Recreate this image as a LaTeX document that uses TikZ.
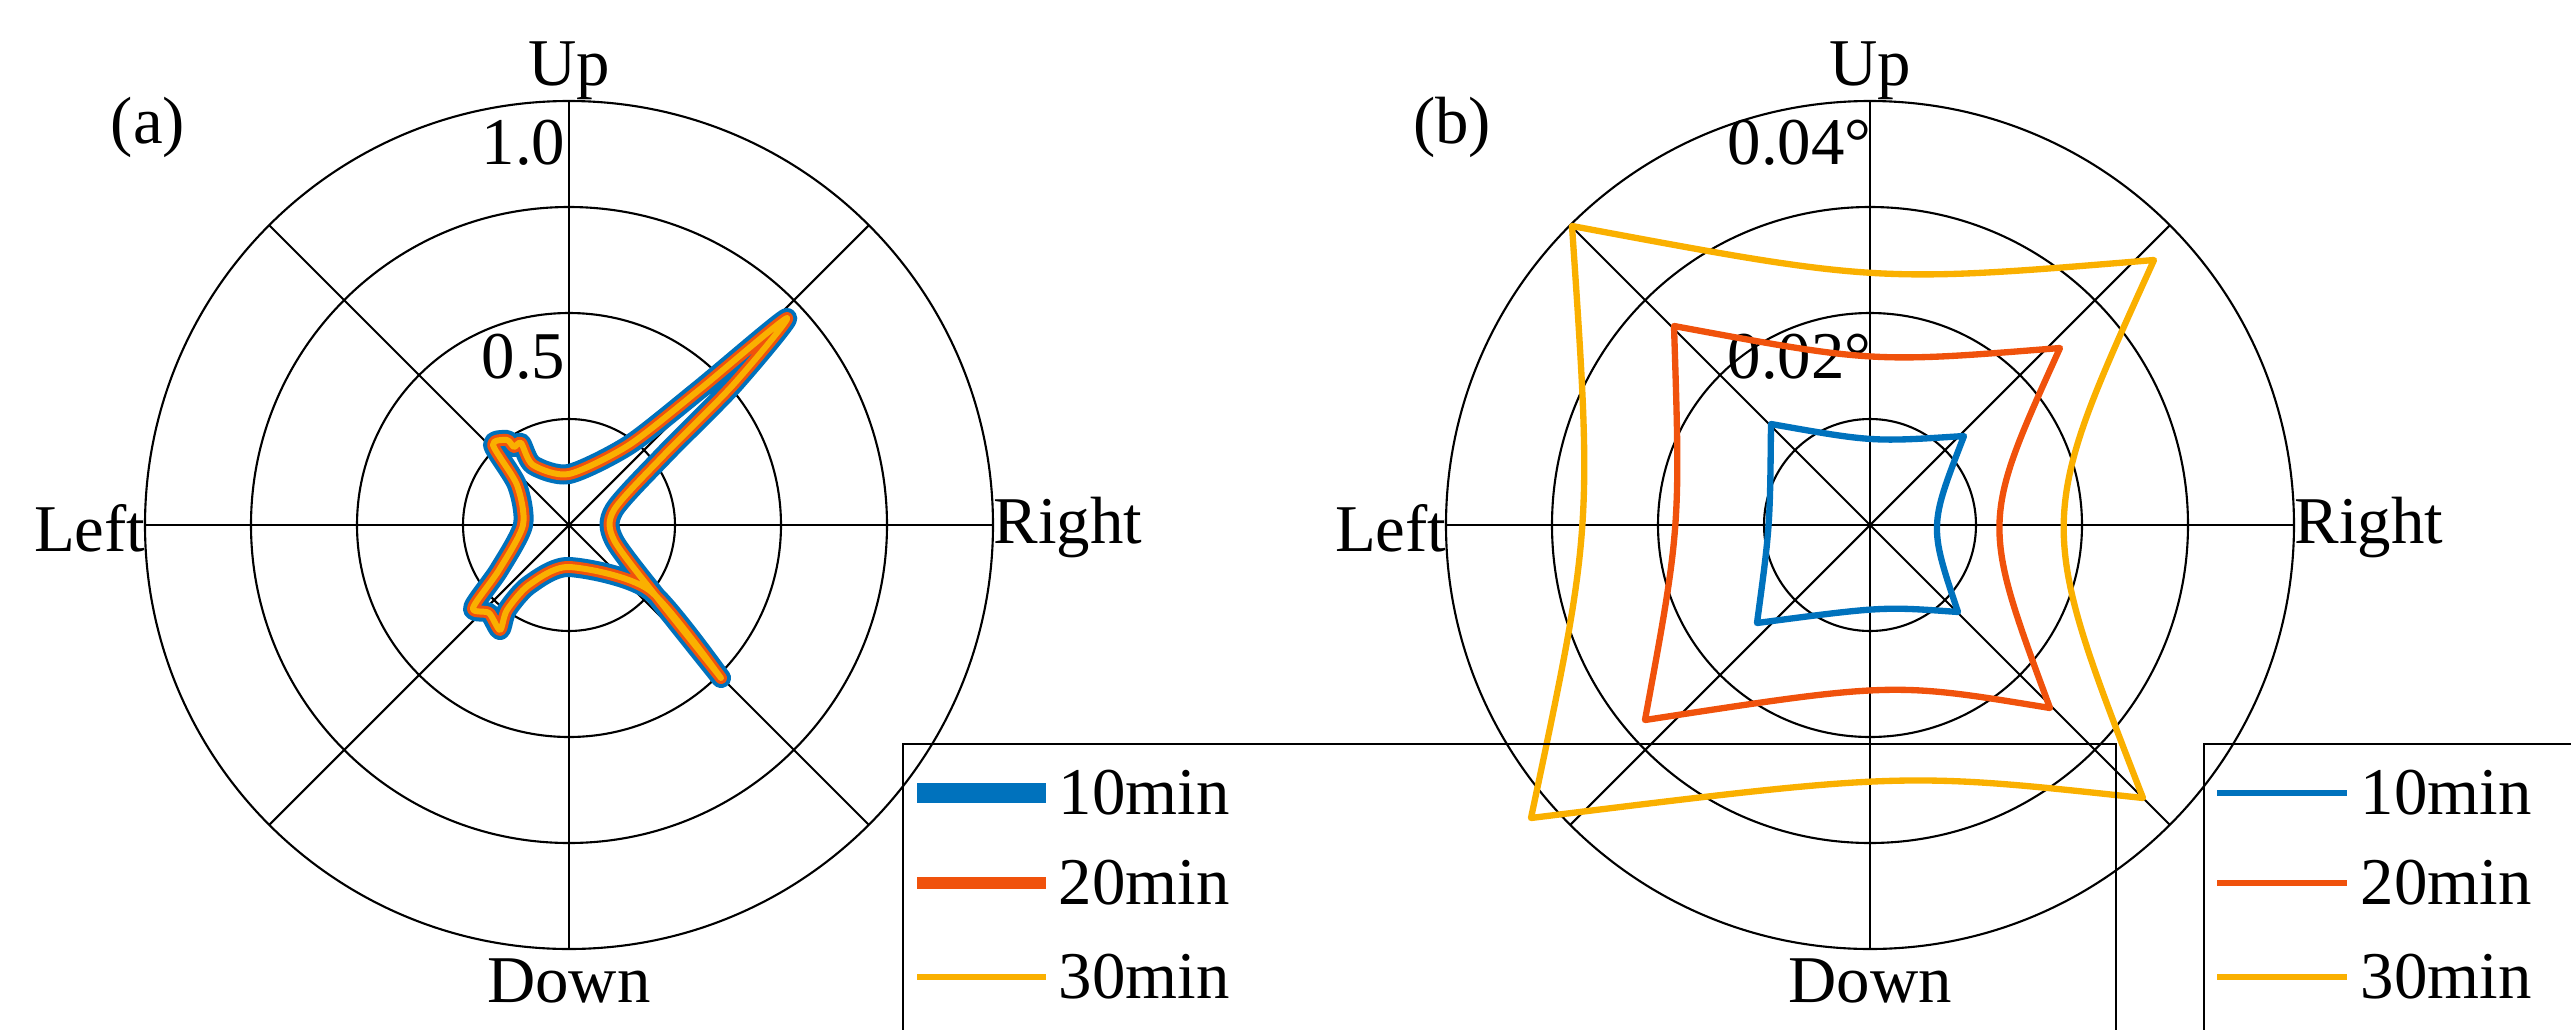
\documentclass[tikz,border=0pt]{standalone}
\usepackage{fontspec}
\setmainfont{Liberation Serif}
\usetikzlibrary{calc}
\definecolor{cb}{RGB}{0,114,189}
\definecolor{co}{RGB}{240,82,12}
\definecolor{cy}{RGB}{250,176,0}
\begin{document}
\begin{tikzpicture}[x=0.01cm,y=-0.01cm,
  grid/.style={black,line width=0.6pt},
  lab/.style={font=\fontsize{19}{22}\selectfont,inner sep=0pt},
  box/.style={draw=black,line width=0.6pt},
  cur/.style={line width=1.8pt,line join=round}]
\useasboundingbox (0,0) rectangle (2571,1030);
% ---------- polar grids
\foreach \cx/\nm in {569/a,1870/b}{
  \coordinate (c\nm) at (\cx,525);
  \foreach \r in {106,212,318,424} \draw[grid] (c\nm) circle[radius=\r];
  \foreach \ang in {0,45,...,315} \draw[grid] (c\nm) -- ++(\ang:424 and -424);
}
% axis labels
\node[lab,anchor=south] (upa) at (569,100) {Up};
\node[lab,anchor=north] (dna) at (569,958) {Down};
\node[lab,anchor=east] (lfa) at (146,528) {Left};
\node[lab,anchor=west] (rta) at (993,528) {Right};
\node[lab] (pa) at (148,127) {(a)};
\node[lab,anchor=east] (r1a) at (566,143) {1.0};
\node[lab,anchor=east] (r2a) at (566,357) {0.5};
\node[lab,anchor=south] (upb) at (1870,100) {Up};
\node[lab,anchor=north] (dnb) at (1870,958) {Down};
\node[lab,anchor=east] (lfb) at (1447,528) {Left};
\node[lab,anchor=west] (rtb) at (2294,528) {Right};
\node[lab] (pb) at (1452,127) {(b)};
\node[lab,anchor=east] (r1b) at (1872,143) {0.04°};
\node[lab,anchor=east] (r2b) at (1872,357) {0.02°};
% ---------- panel (a) star
\begin{scope}[shift={(569,525)},yscale=-1]
\def\star{plot[smooth cycle,tension=0.45] coordinates{(218,207) (164,140) (95,70) (45,15) (45,-15) (90,-75) (152,-153) (80,-65) (0,-42) (-40,-60) (-62,-85) (-69,-105) (-80,-88) (-96,-83) (-70,-45) (-46,0) (-52,40) (-76,80) (-62,85) (-55,78) (-48,82) (-36,60) (0,51) (60,80) (130,135)}}
\draw[cb,line width=5.7pt,line join=round] \star;
\draw[co,line width=3.4pt,line join=round] \star;
\draw[cy,line width=1.7pt,line join=round] \star;
\end{scope}
% ---------- panel (b) squares
\begin{scope}[shift={(1870,525)},yscale=-1]
\foreach \col/\ax/\ay/\bx/\by/\cx/\cy/\dx/\dy/\tm/\rm/\bm/\lm in {
  cb/-99/101/94/89/88/-87/-113/-98/89/75/-87/-103,
  co/-196/199/190/177/180/-183/-225/-195/175/148/-173/-200,
  cy/-298/299/284/265/273/-273/-339/-293/262/222/-265/-298}{
  \draw[\col,cur] (\ax,\ay) .. controls ($(0,2*\tm)-0.5*(\ax,\ay)-0.5*(\bx,\by)$) .. (\bx,\by)
    .. controls ($(2*\rm,0)-0.5*(\bx,\by)-0.5*(\cx,\cy)$) .. (\cx,\cy)
    .. controls ($(0,2*\bm)-0.5*(\cx,\cy)-0.5*(\dx,\dy)$) .. (\dx,\dy)
    .. controls ($(2*\lm,0)-0.5*(\dx,\dy)-0.5*(\ax,\ay)$) .. cycle;
}
\end{scope}
% ---------- legends
\node[box,minimum width=345,minimum height=275,anchor=north west] (lega) at (902,743) {};
\node[box,minimum width=346,minimum height=275,anchor=north west] (legb) at (2203,743) {};
\foreach \y/\t in {793/10min,883/20min,977/30min}{
  \node[lab,anchor=west] (ta\t) at (1058,\y) {\t};
  \node[lab,anchor=west] (tb\t) at (2360,\y) {\t};
}
\draw[cb,line width=5.7pt] (917,793) -- (1046,793);
\draw[co,line width=3.4pt] (917,883) -- (1046,883);
\draw[cy,line width=1.7pt] (917,977) -- (1046,977);
\draw[cb,line width=1.8pt] (2217,793) -- (2347,793);
\draw[co,line width=1.8pt] (2217,883) -- (2347,883);
\draw[cy,line width=1.8pt] (2217,977) -- (2347,977);
\end{tikzpicture}
\end{document}
